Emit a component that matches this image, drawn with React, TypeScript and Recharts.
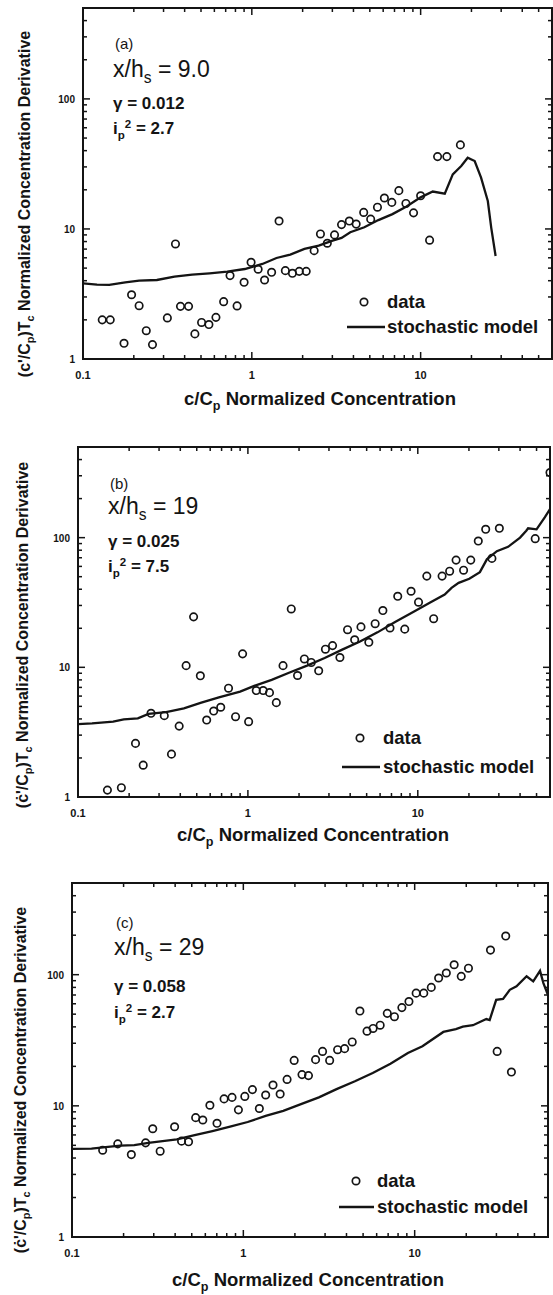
import React from "react";
import { ComposedChart, Scatter, Line, XAxis, YAxis, ReferenceArea } from "recharts";

const INK = "#141414";
const FONT = '"Liberation Sans", Arial, Helvetica, sans-serif';

// axis ticks (log decades + minor ticks)
const xTicks = [0.1, 0.2, 0.3, 0.4, 0.5, 0.6, 0.7, 0.8, 0.9, 1, 2, 3, 4, 5, 6, 7, 8, 9, 10, 20, 30, 40, 50];
const yTicks = [1, 2, 3, 4, 5, 6, 7, 8, 9, 10, 20, 30, 40, 50, 60, 70, 80, 90, 100, 200, 300, 400];
const xMajor = [0.1, 1, 10];
const yMajor = [1, 10, 100];
const xDomain = [0.1, 60];
const yDomain = [1, 500];

// (a) x/hs = 9.0
const aDataX = [0.13, 0.145, 0.175, 0.194, 0.215, 0.237, 0.258, 0.316, 0.353, 0.378, 0.422, 0.46, 0.504, 0.557, 0.613, 0.681, 0.743, 0.818, 0.9, 0.99, 1.09, 1.19, 1.31, 1.45, 1.58, 1.74, 1.91, 2.1, 2.34, 2.55, 2.8, 3.09, 3.4, 3.78, 4.15, 4.6, 5.06, 5.55, 6.1, 6.75, 7.43, 8.18, 9.08, 10, 11.3, 12.6, 14.3, 17.2];
const aDataY = [2.0, 2.0, 1.32, 3.12, 2.57, 1.65, 1.29, 2.07, 7.67, 2.54, 2.54, 1.56, 1.91, 1.84, 2.09, 2.76, 4.38, 2.56, 3.89, 5.54, 4.9, 4.05, 4.64, 11.5, 4.78, 4.56, 4.72, 4.72, 6.81, 9.15, 7.76, 9.0, 10.8, 11.5, 10.9, 13.4, 11.9, 14.7, 17.3, 16.0, 19.7, 15.7, 13.3, 18.0, 8.2, 36.0, 36.0, 44.3];
const aModelX = [0.1, 0.121, 0.143, 0.178, 0.215, 0.274, 0.348, 0.443, 0.562, 0.715, 0.909, 1.155, 1.4, 1.69, 2.05, 2.49, 3.01, 3.4, 3.83, 4.64, 5.62, 6.81, 8.25, 10, 11.8, 13.9, 15.5, 17.4, 19.0, 20.9, 22.8, 25.0, 26.2, 27.8];
const aModelY = [3.82, 3.73, 3.71, 3.89, 4.0, 4.05, 4.3, 4.45, 4.56, 4.7, 4.92, 5.38, 5.98, 6.35, 7.02, 7.45, 8.13, 8.53, 9.43, 10.3, 11.7, 13.0, 14.9, 17.5, 19.4, 18.7, 26.3, 30.5, 35.3, 33.3, 24.8, 16.4, 10.2, 6.2];

// (b) x/hs = 19
const bDataX = [0.149, 0.18, 0.218, 0.242, 0.269, 0.322, 0.355, 0.394, 0.433, 0.479, 0.525, 0.572, 0.629, 0.692, 0.769, 0.846, 0.931, 1.01, 1.12, 1.23, 1.34, 1.47, 1.61, 1.8, 1.96, 2.15, 2.36, 2.61, 2.86, 3.15, 3.48, 3.86, 4.25, 4.63, 5.15, 5.61, 6.23, 6.86, 7.62, 8.38, 9.13, 10.1, 11.3, 12.4, 13.9, 15.4, 16.8, 18.6, 20.5, 22.7, 25.1, 27.3, 30.2, 49.1, 60];
const bDataY = [1.13, 1.18, 2.59, 1.76, 4.42, 4.24, 2.14, 3.52, 10.3, 24.5, 8.6, 3.92, 4.6, 4.92, 6.9, 4.16, 12.7, 3.81, 6.62, 6.62, 6.38, 5.34, 10.3, 28.2, 8.65, 11.6, 10.9, 9.4, 13.8, 14.7, 11.9, 19.5, 16.3, 20.5, 15.6, 21.7, 27.4, 20.1, 35.3, 19.7, 38.6, 31.8, 50.5, 23.7, 50.5, 55.1, 67.1, 56.1, 67.1, 94.1, 116, 69.2, 118, 98.2, 318];
const bModelX = [0.1, 0.121, 0.161, 0.186, 0.225, 0.26, 0.33, 0.42, 0.532, 0.675, 0.9, 1.09, 1.38, 1.76, 2.23, 2.83, 3.59, 4.57, 5.79, 7.35, 9.34, 11.9, 14.4, 15.8, 17.4, 20.1, 23.2, 25.5, 29.2, 34, 40, 43.5, 44.6, 50, 56, 60];
const bModelY = [3.65, 3.7, 3.81, 3.97, 4.04, 4.37, 4.52, 4.83, 5.34, 5.87, 6.5, 7.19, 8.0, 9.12, 10.3, 11.8, 13.7, 15.8, 18.6, 22.4, 26.6, 31.8, 36.4, 41.0, 44.8, 48.2, 54.2, 68, 78.7, 85, 100, 113, 118, 116, 144, 166];

// (c) x/hs = 29
const cDataX = [0.151, 0.185, 0.222, 0.269, 0.296, 0.327, 0.397, 0.436, 0.479, 0.527, 0.58, 0.638, 0.702, 0.772, 0.859, 0.936, 1.02, 1.13, 1.24, 1.35, 1.49, 1.64, 1.8, 1.98, 2.2, 2.4, 2.64, 2.9, 3.19, 3.55, 3.9, 4.32, 4.79, 5.27, 5.72, 6.29, 6.92, 7.62, 8.42, 9.26, 10.2, 11.3, 12.5, 13.8, 15.3, 17.0, 18.7, 20.6, 27.7, 30.3, 34.0, 36.7];
const cDataY = [4.59, 5.13, 4.25, 5.22, 6.69, 4.51, 6.93, 5.38, 5.32, 8.13, 7.8, 10.1, 7.36, 11.3, 11.6, 9.32, 11.8, 13.3, 9.54, 12.1, 14.4, 12.3, 15.9, 22.2, 17.3, 17.0, 22.5, 26.0, 22.2, 26.8, 27.3, 30.7, 52.8, 37.1, 38.9, 41.2, 50.7, 47.8, 56.1, 62.4, 72.3, 72.3, 80.0, 94.3, 103, 119, 97.1, 112, 154, 26.0, 197, 18.1];
const cModelX = [0.1, 0.13, 0.157, 0.191, 0.231, 0.279, 0.338, 0.409, 0.52, 0.66, 0.837, 1.06, 1.35, 1.71, 2.17, 2.76, 3.5, 4.48, 5.69, 7.22, 9.13, 11.1, 14.7, 17.4, 19.1, 21.9, 26.2, 27.4, 29.9, 32.8, 35.9, 39.3, 45.0, 49.2, 53.9, 56.4, 60];
const cModelY = [4.7, 4.72, 4.84, 4.98, 5.01, 5.22, 5.38, 5.54, 5.98, 6.42, 6.93, 7.53, 8.38, 9.16, 10.3, 11.6, 13.4, 15.4, 17.8, 20.9, 25.3, 28.5, 36.6, 38.5, 40.1, 41.2, 45.9, 45.1, 64.3, 65.4, 76.7, 81.4, 97.2, 89, 107, 86.3, 70];

const zip = (xs: number[], ys: number[]) =>
  xs.slice(0, Math.min(xs.length, ys.length)).map((x, i) => ({ x, y: ys[i] }));

const Ring = (p: any) => (
  <circle cx={p.cx} cy={p.cy} r={3.7} fill="none" stroke={INK} strokeWidth={1.7} />
);

const Sub = ({ children }: { children: React.ReactNode }) => (
  <span style={{ fontSize: "0.68em", position: "relative", top: "0.4em" }}>{children}</span>
);
const Sup = ({ children }: { children: React.ReactNode }) => (
  <span style={{ fontSize: "0.68em", position: "relative", top: "-0.5em" }}>{children}</span>
);

const makeXTick = (plotH: number) => (p: any) => {
  const v = p.payload.value;
  const major = xMajor.includes(v);
  const len = major ? 7 : 4;
  return (
    <g>
      <line x1={p.x} x2={p.x} y1={p.y} y2={p.y - len} stroke={INK} strokeWidth={1.5} />
      <line x1={p.x} x2={p.x} y1={p.y - plotH} y2={p.y - plotH + len} stroke={INK} strokeWidth={1.5} />
      {major && (
        <text x={p.x} y={p.y + 20} textAnchor="middle" fontSize={11} fontWeight="bold" fontFamily={FONT} fill={INK}>
          {String(v)}
        </text>
      )}
    </g>
  );
};

const makeYTick = (plotW: number) => (p: any) => {
  const v = p.payload.value;
  const major = yMajor.includes(v);
  const len = major ? 7 : 4;
  return (
    <g>
      <line x1={p.x} x2={p.x + len} y1={p.y} y2={p.y} stroke={INK} strokeWidth={1.5} />
      <line x1={p.x + plotW} x2={p.x + plotW - len} y1={p.y} y2={p.y} stroke={INK} strokeWidth={1.5} />
      {major && (
        <text x={p.x - 8} y={p.y + 4} textAnchor="end" fontSize={10} fontWeight="bold" fontFamily={FONT} fill={INK}>
          {String(v)}
        </text>
      )}
    </g>
  );
};

interface PanelProps {
  top: number;
  height: number;
  box: { left: number; right: number; top: number; bottom: number };
  points: { x: number; y: number }[];
  model: { x: number; y: number }[];
  tag: string;
  xh: string;
  gamma: string;
  ip: string;
  prime: string;
  text: { x: number; tag: number; xh: number; gamma: number; ip: number };
  legend: { cx: number; dataY: number; lx1: number; lx2: number; lineY: number; tx: number };
  yTitle: { x: number; y: number };
  xTitle: { x: number; y: number };
}

const Panel = (pp: PanelProps) => {
  const { top, height, box } = pp;
  const plotW = box.right - box.left;
  const plotH = box.bottom - box.top;
  const abs = (y: number) => ({ position: "absolute" as const, top: y, transform: "translateY(-50%)", lineHeight: 1, whiteSpace: "nowrap" as const });
  return (
    <>
      <div style={{ position: "absolute", left: 0, top }}>
        <ComposedChart
          width={553}
          height={height}
          margin={{ top: box.top, left: box.left - 1, right: 553 - box.right, bottom: height - box.bottom - 1 }}
        >
          <XAxis
            dataKey="x"
            type="number"
            scale="log"
            domain={xDomain}
            allowDataOverflow
            ticks={xTicks}
            interval={0}
            height={1}
            tickSize={0}
            tickMargin={0}
            axisLine={false}
            tick={makeXTick(plotH)}
          />
          <YAxis
            type="number"
            scale="log"
            domain={yDomain}
            allowDataOverflow
            ticks={yTicks}
            interval={0}
            width={1}
            tickSize={0}
            tickMargin={0}
            axisLine={false}
            tick={makeYTick(plotW)}
          />
          <ReferenceArea x1={0.1} x2={60} y1={1} y2={500} fill="none" fillOpacity={0} stroke={INK} strokeWidth={2} ifOverflow="visible" />
          <Line data={pp.model} dataKey="y" type="linear" stroke={INK} strokeWidth={2.3} dot={false} activeDot={false} isAnimationActive={false} />
          <Scatter data={pp.points} dataKey="y" shape={Ring} isAnimationActive={false} />
        </ComposedChart>
      </div>

      {/* annotations */}
      <div style={{ ...abs(pp.text.tag), left: pp.text.x + 2, fontSize: 15 }}>{pp.tag}</div>
      <div style={{ ...abs(pp.text.xh), left: pp.text.x, fontSize: 23 }}>
        x/h<Sub>s</Sub> = {pp.xh}
      </div>
      <div style={{ ...abs(pp.text.gamma), left: pp.text.x, fontSize: 17, fontWeight: "bold" }}>γ = {pp.gamma}</div>
      <div style={{ ...abs(pp.text.ip), left: pp.text.x, fontSize: 17, fontWeight: "bold" }}>
        i<Sub>p</Sub><Sup>2</Sup> = {pp.ip}
      </div>

      {/* legend */}
      <svg style={{ position: "absolute", left: 0, top: 0, overflow: "visible" }} width={1} height={1}>
        <circle cx={pp.legend.cx} cy={pp.legend.dataY} r={3.7} fill="none" stroke={INK} strokeWidth={1.7} />
        <line x1={pp.legend.lx1} x2={pp.legend.lx2} y1={pp.legend.lineY} y2={pp.legend.lineY} stroke={INK} strokeWidth={2.3} />
      </svg>
      <div style={{ ...abs(pp.legend.dataY), left: pp.legend.tx, fontSize: 18.5, fontWeight: "bold" }}>data</div>
      <div style={{ ...abs(pp.legend.lineY), left: pp.legend.tx, fontSize: 18.5, fontWeight: "bold" }}>stochastic model</div>

      {/* axis titles */}
      <div
        style={{
          position: "absolute",
          left: pp.yTitle.x,
          top: pp.yTitle.y,
          transform: "translate(-50%, -50%) rotate(-90deg)",
          whiteSpace: "nowrap",
          lineHeight: 1,
          fontSize: 16,
          fontWeight: "bold",
        }}
      >
        ({pp.prime}/C<Sub>p</Sub>)T<Sub>c</Sub> Normalized Concentration Derivative
      </div>
      <div
        style={{
          position: "absolute",
          left: pp.xTitle.x,
          top: pp.xTitle.y,
          transform: "translate(-50%, -50%)",
          whiteSpace: "nowrap",
          lineHeight: 1,
          fontSize: 18.5,
          fontWeight: "bold",
        }}
      >
        c/C<Sub>p</Sub> Normalized Concentration
      </div>
    </>
  );
};

export default function App() {
  return (
    <div
      style={{
        position: "absolute",
        left: 0,
        top: 0,
        width: 553,
        height: 1295,
        background: "#fff",
        overflow: "hidden",
        fontFamily: FONT,
        color: INK,
      }}
    >
      <Panel
        top={0}
        height={430}
        box={{ left: 83, right: 552, top: 8, bottom: 359 }}
        points={zip(aDataX, aDataY)}
        model={zip(aModelX, aModelY)}
        tag="(a)"
        xh="9.0"
        gamma="0.012"
        ip="2.7"
        prime="c'"
        text={{ x: 113, tag: 43, xh: 69, gamma: 103, ip: 128 }}
        legend={{ cx: 364, dataY: 302, lx1: 347, lx2: 385, lineY: 327, tx: 387 }}
        yTitle={{ x: 25, y: 204 }}
        xTitle={{ x: 320, y: 399 }}
      />
      <Panel
        top={430}
        height={430}
        box={{ left: 78, right: 550, top: 17, bottom: 367 }}
        points={zip(bDataX, bDataY)}
        model={zip(bModelX, bModelY)}
        tag="(b)"
        xh="19"
        gamma="0.025"
        ip="7.5"
        prime="ċ'"
        text={{ x: 108, tag: 483, xh: 506, gamma: 541, ip: 566 }}
        legend={{ cx: 360, dataY: 738, lx1: 342, lx2: 380, lineY: 767, tx: 383 }}
        yTitle={{ x: 23, y: 635 }}
        xTitle={{ x: 313, y: 835 }}
      />
      <Panel
        top={860}
        height={435}
        box={{ left: 72, right: 548, top: 23, bottom: 377 }}
        points={zip(cDataX, cDataY)}
        model={zip(cModelX, cModelY)}
        tag="(c)"
        xh="29"
        gamma="0.058"
        ip="2.7"
        prime="ċ'"
        text={{ x: 114, tag: 922, xh: 947, gamma: 986, ip: 1012 }}
        legend={{ cx: 356, dataY: 1181, lx1: 339, lx2: 374, lineY: 1207, tx: 377 }}
        yTitle={{ x: 21, y: 1080 }}
        xTitle={{ x: 308, y: 1280 }}
      />
    </div>
  );
}
